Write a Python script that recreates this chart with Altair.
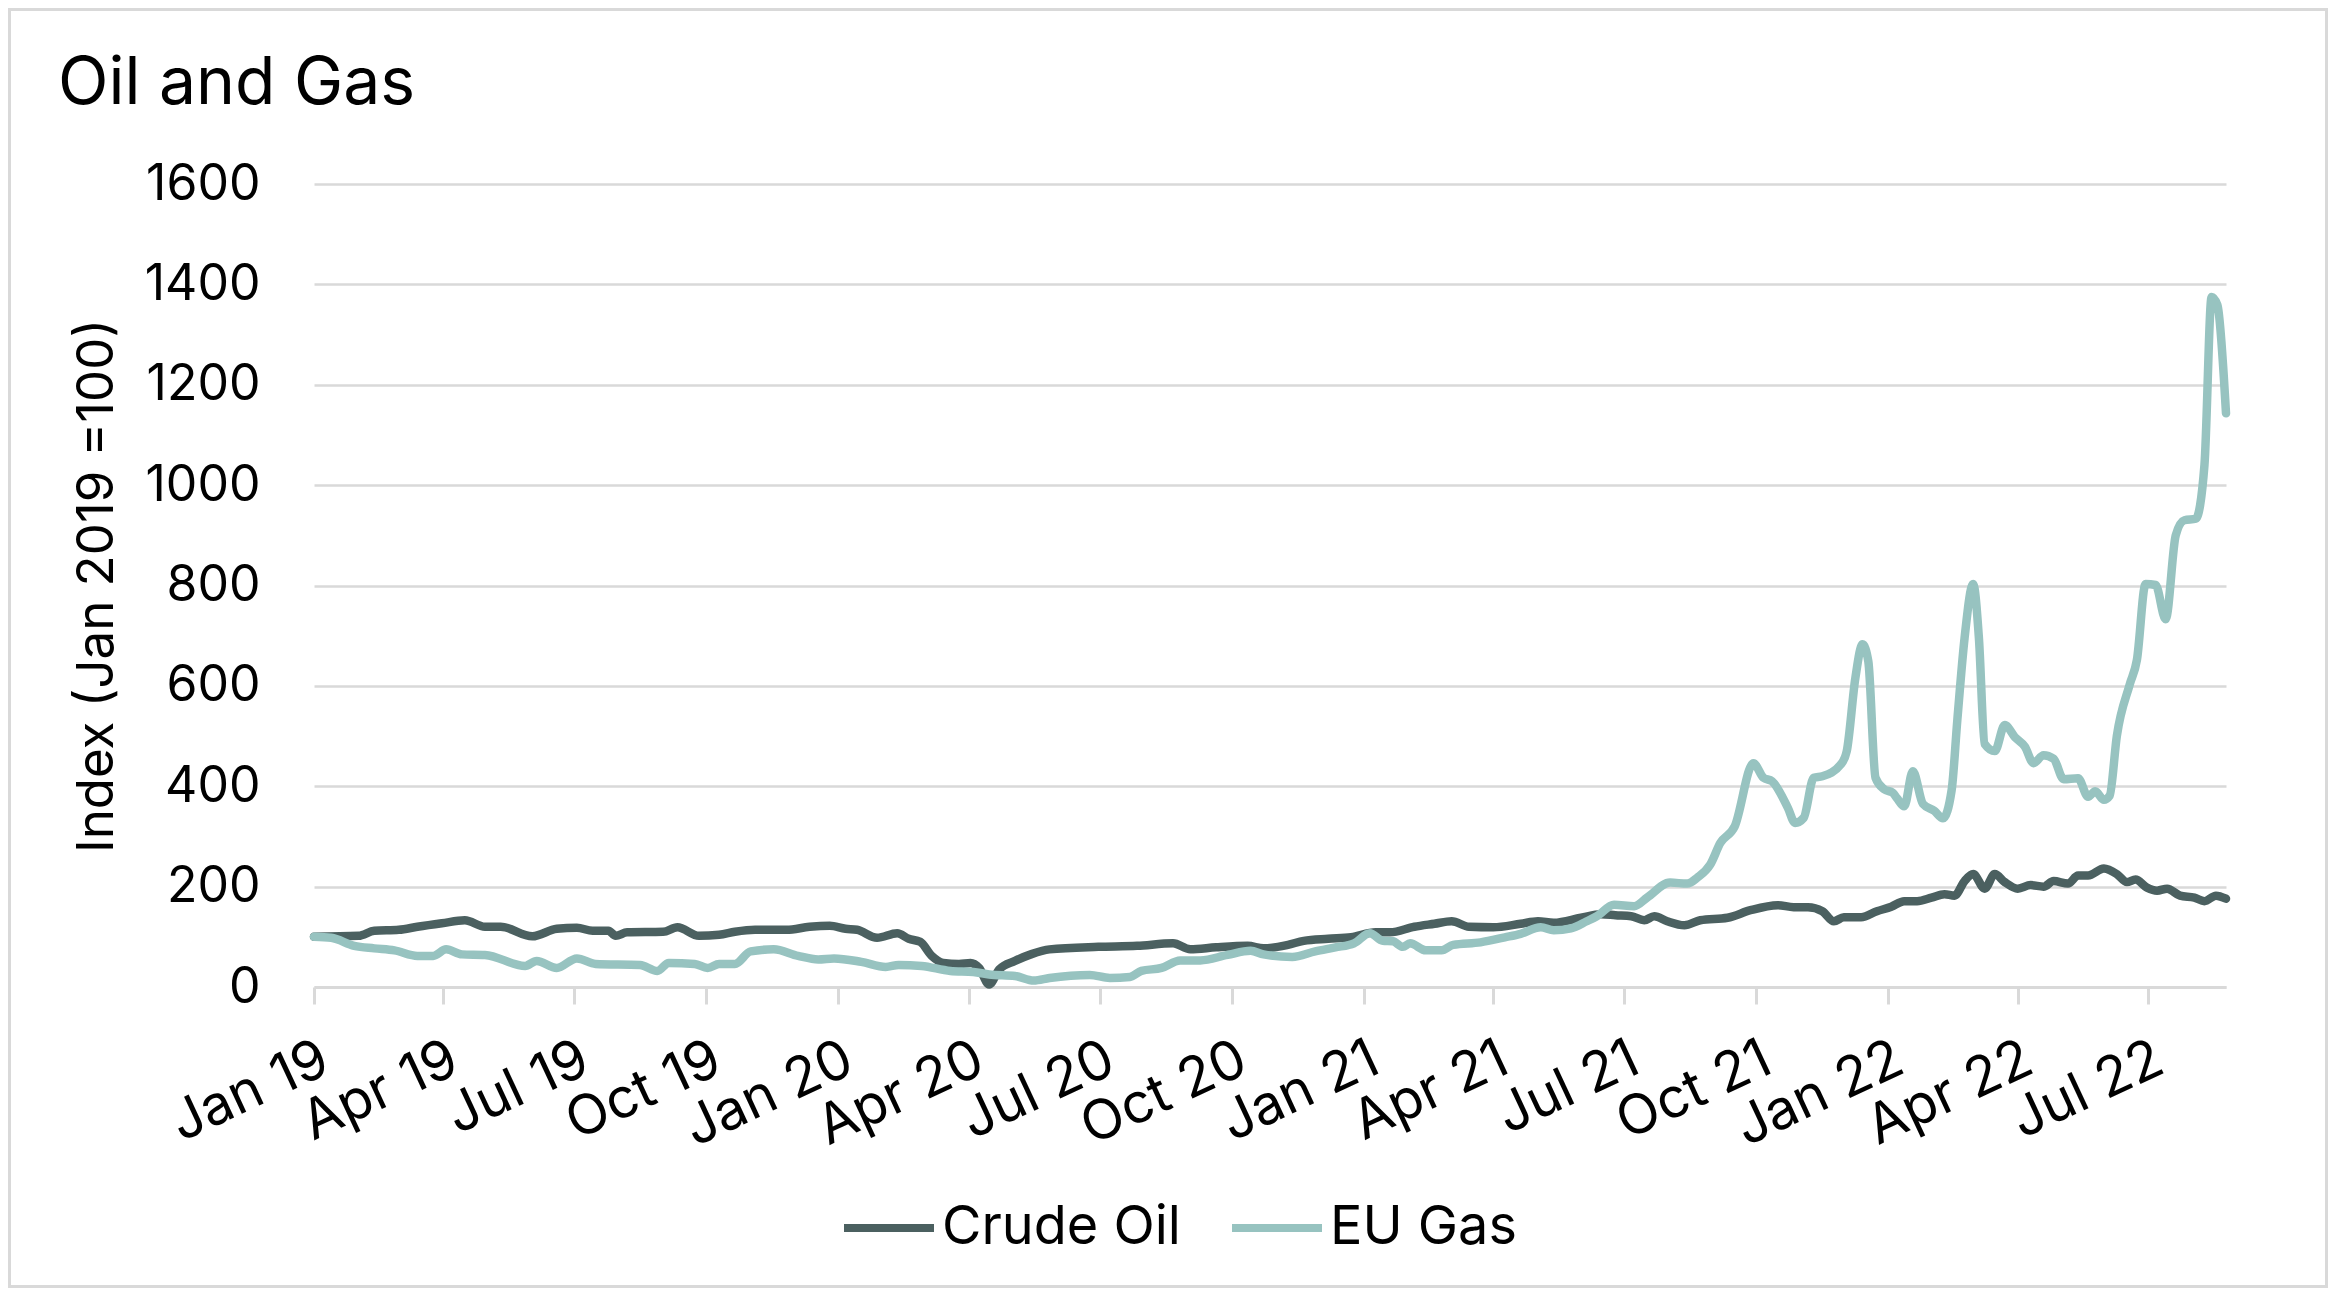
import altair as alt
import pandas as pd

# ---------------- data ----------------
oil_dates = [
    "2019-01-01", "2019-02-01", "2019-02-12", "2019-03-01", "2019-03-14", "2019-03-31", "2019-04-16",
    "2019-04-30", "2019-05-11", "2019-06-02", "2019-06-19", "2019-07-03", "2019-07-14", "2019-07-25",
    "2019-07-30", "2019-08-07", "2019-09-01", "2019-09-11", "2019-09-26", "2019-10-10", "2019-10-21",
    "2019-11-04", "2019-11-26", "2019-12-12", "2019-12-26", "2020-01-06", "2020-01-14", "2020-01-28",
    "2020-02-11", "2020-02-19", "2020-02-27", "2020-03-06", "2020-03-14", "2020-03-25", "2020-04-02",
    "2020-04-08", "2020-04-15", "2020-04-22", "2020-05-03", "2020-05-14", "2020-05-27", "2020-06-30",
    "2020-07-27", "2020-08-21", "2020-09-02", "2020-09-20", "2020-10-12", "2020-10-23", "2020-11-09",
    "2020-11-20", "2020-12-07", "2020-12-23", "2021-01-09", "2021-01-19", "2021-02-05", "2021-02-19",
    "2021-03-03", "2021-03-15", "2021-04-01", "2021-04-20", "2021-05-02", "2021-05-13", "2021-06-01",
    "2021-06-15", "2021-06-25", "2021-07-06", "2021-07-15", "2021-07-22", "2021-07-31", "2021-08-12",
    "2021-08-23", "2021-09-11", "2021-09-27", "2021-10-16", "2021-10-27", "2021-11-06", "2021-11-16",
    "2021-11-24", "2021-12-01", "2021-12-13", "2021-12-24", "2022-01-03", "2022-01-12", "2022-01-21",
    "2022-01-31", "2022-02-09", "2022-02-16", "2022-02-23", "2022-03-01", "2022-03-09", "2022-03-16",
    "2022-03-23", "2022-04-01", "2022-04-10", "2022-04-19", "2022-04-26", "2022-05-06", "2022-05-13",
    "2022-05-20", "2022-05-31", "2022-06-09", "2022-06-16", "2022-06-22", "2022-06-30", "2022-07-07",
    "2022-07-14", "2022-07-23", "2022-08-02", "2022-08-09", "2022-08-17", "2022-08-24",
]
oil_values = [
    100, 102, 112, 114, 120, 127, 133,
    120, 120, 101, 116, 118, 112, 112,
    102, 109, 110, 119, 102, 104, 110,
    114, 114, 120, 122, 116, 114, 98,
    107, 96, 90, 62, 48, 46, 48,
    38, 5, 35, 52, 65, 75, 80,
    82, 87, 75, 79, 82, 77, 84,
    92, 96, 99, 109, 109, 120, 126,
    131, 120, 119, 126, 131, 128, 138,
    145, 143, 141, 133, 141, 131, 123,
    133, 138, 153, 163, 159, 159, 151,
    131, 139, 139, 151, 160, 171, 171,
    178, 185, 182, 211, 225, 196, 225,
    209, 196, 203, 200, 211, 206, 222,
    222, 236, 225, 209, 214, 198, 192,
    196, 182, 178, 171, 182, 176,
]

gas_dates = [
    "2019-01-01", "2019-01-13", "2019-01-29", "2019-02-12", "2019-02-26", "2019-03-14", "2019-03-25",
    "2019-04-03", "2019-04-14", "2019-04-30", "2019-05-28", "2019-06-05", "2019-06-19", "2019-07-03",
    "2019-07-16", "2019-08-16", "2019-08-28", "2019-09-05", "2019-09-23", "2019-10-02", "2019-10-10",
    "2019-10-21", "2019-11-01", "2019-11-17", "2019-12-04", "2019-12-18", "2019-12-29", "2020-01-17",
    "2020-02-03", "2020-02-12", "2020-02-28", "2020-03-19", "2020-04-04", "2020-04-15", "2020-05-03",
    "2020-05-16", "2020-05-27", "2020-06-24", "2020-07-08", "2020-07-22", "2020-07-30", "2020-08-13",
    "2020-08-26", "2020-09-09", "2020-09-28", "2020-10-14", "2020-10-23", "2020-11-12", "2020-11-28",
    "2020-12-12", "2020-12-25", "2021-01-05", "2021-01-14", "2021-01-21", "2021-01-28", "2021-02-02",
    "2021-02-13", "2021-02-24", "2021-03-04", "2021-03-23", "2021-04-09", "2021-04-20", "2021-05-04",
    "2021-05-13", "2021-05-25", "2021-06-05", "2021-06-12", "2021-06-24", "2021-07-08", "2021-07-17",
    "2021-08-02", "2021-08-14", "2021-08-21", "2021-08-30", "2021-09-06", "2021-09-16", "2021-09-29",
    "2021-10-06", "2021-10-12", "2021-10-23", "2021-10-28", "2021-11-03", "2021-11-10", "2021-11-16",
    "2021-11-29", "2021-12-03", "2021-12-09", "2021-12-14", "2021-12-18", "2021-12-23", "2021-12-29",
    "2022-01-04", "2022-01-07", "2022-01-12", "2022-01-18", "2022-01-25", "2022-02-02", "2022-02-08",
    "2022-02-14", "2022-02-18", "2022-02-23", "2022-03-01", "2022-03-05", "2022-03-09", "2022-03-16",
    "2022-03-23", "2022-03-30", "2022-04-06", "2022-04-12", "2022-04-19", "2022-04-26", "2022-05-03",
    "2022-05-13", "2022-05-20", "2022-05-25", "2022-05-31", "2022-06-04", "2022-06-09", "2022-06-18",
    "2022-06-23", "2022-06-29", "2022-07-06", "2022-07-13", "2022-07-20", "2022-07-26", "2022-08-03",
    "2022-08-09", "2022-08-14", "2022-08-18", "2022-08-24",
]
gas_values = [
    100, 98, 82, 77, 73, 62, 62,
    75, 65, 64, 42, 52, 38, 57,
    46, 44, 32, 48, 46, 38, 46,
    46, 71, 75, 62, 55, 57, 50,
    40, 44, 42, 32, 30, 25, 22,
    13, 18, 24, 18, 20, 32, 38,
    53, 53, 64, 72, 65, 60, 71,
    79, 87, 107, 92, 91, 80, 87,
    73, 73, 84, 89, 99, 106, 119,
    113, 117, 131, 141, 164, 161, 178,
    208, 206, 218, 244, 287, 320, 446,
    417, 410, 357, 327, 337, 417, 420,
    444, 470, 616, 683, 649, 417, 394,
    387, 376, 360, 430, 365, 351, 336,
    392, 533, 695, 803, 695, 484, 470,
    522, 498, 479, 446, 462, 455, 414,
    416, 379, 390, 373, 381, 500, 603,
    652, 803, 801, 733, 900, 930, 933,
    1040, 1375, 1359, 1143,
]

series_names = ["Crude Oil", "EU Gas"]
series_colors = ["#4B6060", "#97C3C0"]
y_ticks = [0, 200, 400, 600, 800, 1000, 1200, 1400, 1600]
x_tick_months = [(2019, 1), (2019, 4), (2019, 7), (2019, 10),
                 (2020, 1), (2020, 4), (2020, 7), (2020, 10),
                 (2021, 1), (2021, 4), (2021, 7), (2021, 10),
                 (2022, 1), (2022, 4), (2022, 7)]
title_text = "Oil and Gas"
y_title = "Index (Jan 2019 =100)"

# ---------------- build ----------------
df = pd.concat([
    pd.DataFrame({"date": oil_dates, "value": oil_values, "series": series_names[0]}),
    pd.DataFrame({"date": gas_dates, "value": gas_values, "series": series_names[1]}),
], ignore_index=True)

FONT = "Inter"
W, H = 1912, 803
PAD_L, PAD_T, PAD_R, PAD_B = 306, 176, 102, 301
TOTAL_W = PAD_L + W + PAD_R
TOTAL_H = PAD_T + H + PAD_B

x_vals = [alt.DateTime(year=y, month=m, date=1, utc=True) for (y, m) in x_tick_months]
x_domain = [alt.DateTime(year=2019, month=1, date=1, utc=True),
            alt.DateTime(year=2022, month=8, date=24, utc=True)]

lines = alt.Chart(df).mark_line(
    strokeWidth=8.5, interpolate="monotone", strokeCap="round", strokeJoin="round"
).encode(
    x=alt.X("date:T",
            scale=alt.Scale(type="utc", domain=x_domain, nice=False),
            axis=alt.Axis(values=x_vals, labelExpr="utcFormat(datum.value, '%b %y')",
                          title=None,
                          grid=False, domainColor="#d9d9d9", domainWidth=3,
                          tickColor="#d9d9d9", tickWidth=3, tickSize=17,
                          labelAngle=335, labelFont=FONT, labelFontSize=55,
                          labelColor="black", labelPadding=28, labelOverlap=False,
                          labelFlush=False, labelLimit=400)),
    y=alt.Y("value:Q",
            scale=alt.Scale(domain=[0, 1600], nice=False, zero=True),
            axis=alt.Axis(values=y_ticks, format="d", title=y_title, grid=True,
                          gridColor="#d9d9d9", gridWidth=2.5, domain=False,
                          ticks=False, tickSize=0,
                          labelFont=FONT, labelFontSize=50, labelColor="black",
                          labelPadding=54, titleFont=FONT, titleFontSize=51,
                          titleFontWeight="normal", titleColor="black",
                          titleAngle=270, titleX=-217, titleY=H / 2,
                          titleAlign="center", titleBaseline="middle")),
    color=alt.Color("series:N",
                    scale=alt.Scale(domain=series_names, range=series_colors),
                    legend=alt.Legend(orient="none", legendX=526, legendY=995,
                                      direction="horizontal", title=None,
                                      symbolType="stroke", symbolSize=8100,
                                      symbolStrokeWidth=8, labelFont=FONT,
                                      labelFontSize=54, labelColor="black",
                                      labelLimit=500,
                                      labelOffset=4, columnPadding=35, padding=0)),
    order=alt.Order("date:T"),
)

border = alt.Chart(pd.DataFrame({"b": [0]})).mark_rect(
    fill="transparent", stroke="#d9d9d9", strokeWidth=3
).encode(
    x=alt.value(-PAD_L + 1.5), x2=alt.value(TOTAL_W - PAD_L - 1.5),
    y=alt.value(-PAD_T + 1.5), y2=alt.value(TOTAL_H - PAD_T - 1.5),
)

title = alt.Chart(pd.DataFrame({"t": [title_text]})).mark_text(
    align="left", baseline="alphabetic", fontSize=66, font=FONT, color="black"
).encode(x=alt.value(-256), y=alt.value(-80), text="t:N")

chart = alt.layer(border, lines, title).properties(
    width=W, height=H,
    autosize=alt.AutoSizeParams(type="none"),
    padding={"left": PAD_L, "top": PAD_T, "right": PAD_R, "bottom": PAD_B},
    background="white",
).configure_view(strokeWidth=0)

chart.save("out.html", embed_options={"renderer": "svg", "actions": False})
